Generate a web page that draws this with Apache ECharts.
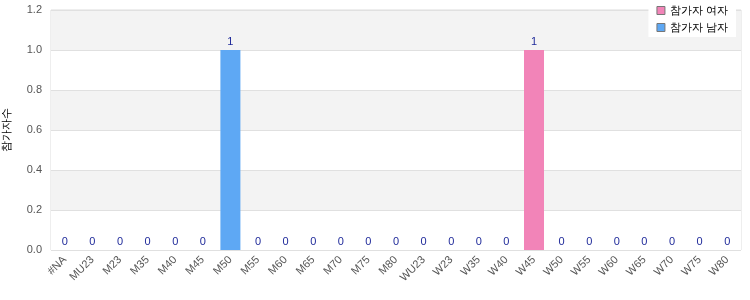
<!DOCTYPE html>
<html><head><meta charset="utf-8">
<script src="https://cdn.jsdelivr.net/npm/echarts@6/dist/echarts.min.js"></script>
<style>html,body{margin:0;padding:0;background:#fff}#c{width:750px;height:300px}</style>
</head><body><div id="c"></div>
<script>
const categories = ['#NA','MU23','M23','M35','M40','M45','M50','M55','M60','M65','M70','M75','M80','WU23','W23','W35','W40','W45','W50','W55','W60','W65','W70','W75','W80'];
const womenValues = [0,0,0,0,0,0,0,0,0,0,0,0,0,0,0,0,0,1,0,0,0,0,0,0,0];
const menValues   = [0,0,0,0,0,0,1,0,0,0,0,0,0,0,0,0,0,0,0,0,0,0,0,0,0];
const seriesNames = ['참가자 여자','참가자 남자'];
const yAxisName = '참가자수';

const chart = echarts.init(document.getElementById('c'));
chart.setOption({
  animation:false,
  textStyle:{fontFamily:'Liberation Sans'},
  legend:{
    top:1, right:14, orient:'vertical', itemWidth:8, itemHeight:8, itemGap:6,
    backgroundColor:'#fff', padding:[4,8,4,8],
    textStyle:{fontSize:11, color:'#000'},
    data:seriesNames.map(n=>({name:n, icon:'rect', itemStyle:{borderColor:'#777', borderWidth:1}}))
  },
  grid:{left:51, right:9, top:10, bottom:50, show:true, borderColor:'#ddd', borderWidth:1, outerBoundsMode:'none', containLabel:false},
  xAxis:{
    type:'category', data:categories,
    axisLine:{show:false}, axisTick:{show:false},
    axisLabel:{rotate:45, interval:0, color:'#555', fontSize:11, margin:8}
  },
  yAxis:{
    type:'value', min:0, max:1.2, interval:0.2,
    name:yAxisName, nameLocation:'middle', nameGap:39, nameRotate:90,
    nameTextStyle:{fontSize:11, color:'#000'},
    axisLine:{show:false}, axisTick:{show:false},
    axisLabel:{color:'#555', fontSize:11, margin:9, formatter:v=>v.toFixed(1)},
    splitLine:{show:true, lineStyle:{color:'#e0e0e0'}},
    splitArea:{show:true, areaStyle:{color:['#ffffff','#f3f3f3']}}
  },
  series:[
    {name:seriesNames[0], type:'bar', stack:'a', data:womenValues, barWidth:20,
     itemStyle:{color:'#f284b8'}},
    {name:seriesNames[1], type:'bar', stack:'a', data:menValues, barWidth:20,
     itemStyle:{color:'#5ea8f4'},
     label:{show:true, position:'top', color:'#1f2a9a', fontSize:11, distance:3,
       formatter:p=>String(womenValues[p.dataIndex]+menValues[p.dataIndex])}}
  ]
});
</script></body></html>
